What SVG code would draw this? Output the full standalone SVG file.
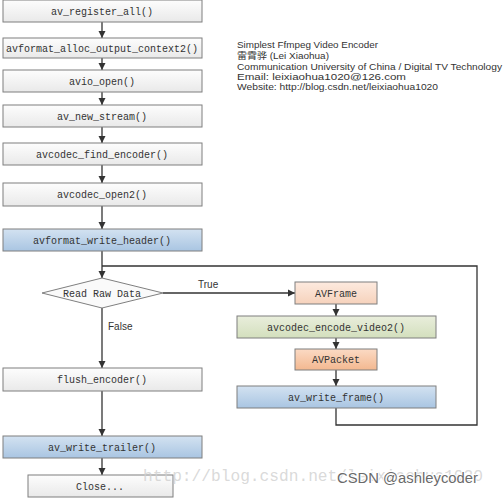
<svg xmlns="http://www.w3.org/2000/svg" width="503" height="498" viewBox="0 0 503 498">
<style>
.box{stroke:#7f7f7f;stroke-width:1}
.g{fill:url(#gw)}
.b{fill:url(#gb)}
.o1{fill:url(#go1)}
.o2{fill:url(#go2)}
.gr{fill:url(#gg)}
.t{font-family:"Liberation Mono","DejaVu Sans Mono",monospace;font-size:10px;fill:#333;text-anchor:middle}
.info{font-family:"Liberation Sans","Noto Sans CJK SC",sans-serif;font-size:9px;fill:#333}
.lbl{font-family:"Liberation Sans",sans-serif;font-size:10px;fill:#333}
.c{stroke:#333;stroke-width:1.3;fill:none}
</style>
<defs>
<linearGradient id="gw" x1="0" y1="0" x2="0" y2="1"><stop offset="0" stop-color="#fdfdfd"/><stop offset="1" stop-color="#e9e9e9"/></linearGradient>
<linearGradient id="gb" x1="0" y1="0" x2="0" y2="1"><stop offset="0" stop-color="#d3e2f1"/><stop offset="1" stop-color="#a9c5e2"/></linearGradient>
<linearGradient id="go1" x1="0" y1="0" x2="0" y2="1"><stop offset="0" stop-color="#fdeadf"/><stop offset="1" stop-color="#f6d2bc"/></linearGradient>
<linearGradient id="go2" x1="0" y1="0" x2="0" y2="1"><stop offset="0" stop-color="#fbdac4"/><stop offset="1" stop-color="#f3b890"/></linearGradient>
<linearGradient id="gg" x1="0" y1="0" x2="0" y2="1"><stop offset="0" stop-color="#e9eedc"/><stop offset="1" stop-color="#d3dfbd"/></linearGradient>
<marker id="ah" markerWidth="8" markerHeight="8" refX="7" refY="4" orient="auto" markerUnits="userSpaceOnUse"><path d="M0,0.5 L7,4 L0,7.5 Z" fill="#333"/></marker>
</defs>

<g id="connectors">
<path class="c" d="M102,22 V38" marker-end="url(#ah)"/>
<path class="c" d="M102,58 V70" marker-end="url(#ah)"/>
<path class="c" d="M102,92 V105" marker-end="url(#ah)"/>
<path class="c" d="M102,127 V143" marker-end="url(#ah)"/>
<path class="c" d="M102,165 V183" marker-end="url(#ah)"/>
<path class="c" d="M102,206 V229" marker-end="url(#ah)"/>
<path class="c" d="M102,251 V278" marker-end="url(#ah)"/>
<path class="c" d="M336,408 V425 H477 V266 H102"/>
<path class="c" d="M163,293 H295" marker-end="url(#ah)"/>
<path class="c" d="M336,304 V316" marker-end="url(#ah)"/>
<path class="c" d="M336,338 V349" marker-end="url(#ah)"/>
<path class="c" d="M336,370 V386" marker-end="url(#ah)"/>
<path class="c" d="M102,308 V368" marker-end="url(#ah)"/>
<path class="c" d="M102,391 V436" marker-end="url(#ah)"/>
<path class="c" d="M102,458 V475" marker-end="url(#ah)"/>
<text class="lbl" x="198" y="288">True</text>
<text class="lbl" x="108" y="330">False</text>
</g>

<g id="n1"><rect class="box g" x="3" y="0" width="199" height="22"/><text class="t" x="102" y="15">av_register_all()</text></g>
<g id="n2"><rect class="box g" x="3" y="38" width="199" height="20"/><text class="t" x="102" y="52">avformat_alloc_output_context2()</text></g>
<g id="n3"><rect class="box g" x="3" y="70" width="199" height="22"/><text class="t" x="102" y="85">avio_open()</text></g>
<g id="n4"><rect class="box g" x="3" y="105" width="199" height="22"/><text class="t" x="102" y="120">av_new_stream()</text></g>
<g id="n5"><rect class="box g" x="3" y="143" width="199" height="22"/><text class="t" x="102" y="158">avcodec_find_encoder()</text></g>
<g id="n6"><rect class="box g" x="3" y="183" width="199" height="23"/><text class="t" x="102" y="198">avcodec_open2()</text></g>
<g id="n7"><rect class="box b" x="3" y="229" width="199" height="22"/><text class="t" x="102" y="244">avformat_write_header()</text></g>
<g id="n8"><polygon class="box" fill="#fafafa" points="42,293 102,278 163,293 102,308"/><text class="t" x="102" y="297">Read Raw Data</text></g>
<g id="n9"><rect class="box o1" x="295" y="282" width="82" height="22"/><text class="t" x="336" y="297">AVFrame</text></g>
<g id="n10"><rect class="box gr" x="237" y="316" width="199" height="22"/><text class="t" x="336" y="331">avcodec_encode_video2()</text></g>
<g id="n11"><rect class="box o2" x="295" y="349" width="82" height="21"/><text class="t" x="336" y="363">AVPacket</text></g>
<g id="n12"><rect class="box b" x="237" y="386" width="199" height="22"/><text class="t" x="336" y="401">av_write_frame()</text></g>
<g id="n13"><rect class="box g" x="3" y="368" width="199" height="23"/><text class="t" x="102" y="383">flush_encoder()</text></g>
<g id="n14"><rect class="box b" x="3" y="436" width="199" height="22"/><text class="t" x="102" y="451">av_write_trailer()</text></g>
<g id="n15"><rect class="box g" x="28" y="475" width="145" height="22"/><text class="t" x="100" y="490">Close...</text></g>

<g id="info">
<text class="info" x="237" y="48" textLength="141" lengthAdjust="spacingAndGlyphs">Simplest Ffmpeg Video Encoder</text>
<text class="info" x="237" y="59" textLength="92" lengthAdjust="spacingAndGlyphs">雷霄骅 (Lei Xiaohua)</text>
<text class="info" x="237" y="69.5" textLength="265" lengthAdjust="spacingAndGlyphs">Communication University of China / Digital TV Technology</text>
<text class="info" x="237" y="79.5" textLength="169" lengthAdjust="spacingAndGlyphs">Email:  leixiaohua1020@126.com</text>
<text class="info" x="237" y="89.5" textLength="201" lengthAdjust="spacingAndGlyphs">Website:  http://blog.csdn.net/leixiaohua1020</text>
</g>

<g id="watermark">
<text x="143" y="481" font-family="Liberation Mono,monospace" font-size="16" fill="#d0d0d0" fill-opacity="0.8" textLength="340" lengthAdjust="spacingAndGlyphs">http://blog.csdn.net/leixiaohua1020</text>
<text x="337" y="483" font-family="Liberation Sans,sans-serif" font-size="14" fill="#6a6a6a" stroke="#ffffff" stroke-width="2" paint-order="stroke" textLength="141" lengthAdjust="spacingAndGlyphs">CSDN @ashleycoder</text>
</g>
</svg>
